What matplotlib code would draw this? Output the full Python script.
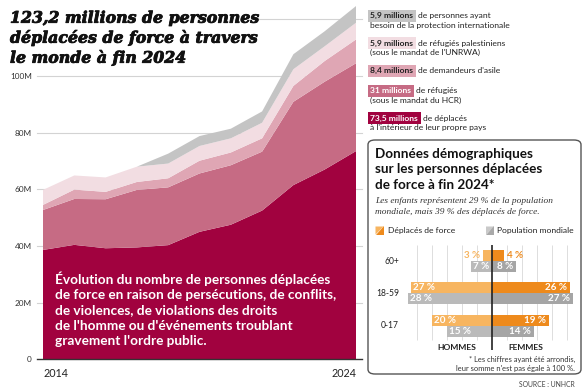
import numpy as np
import matplotlib.pyplot as plt
import matplotlib.patheffects as pe
from matplotlib.patches import FancyBboxPatch, Polygon

W, H = 588, 392

# Forcibly displaced people, millions
years = list(range(2014, 2025))
idp = [38.6, 40.4, 39.2, 39.5, 40.3, 45.0, 47.5, 52.5, 61.5, 67.0, 73.5]
refugees = [14.1, 16.2, 17.3, 20.3, 20.4, 20.6, 21.0, 20.8, 29.4, 31.0, 31.0]
asylum = [1.8, 3.3, 2.6, 2.8, 3.2, 4.5, 4.5, 4.7, 5.6, 7.3, 8.4]
palestine = [5.3, 5.0, 5.1, 5.4, 5.2, 5.2, 5.0, 5.5, 5.9, 5.2, 5.9]
others = [0, 0, 0, 0, 3.5, 3.5, 3.4, 4.0, 5.3, 5.3, 5.9]

y_ticks = [0, 20, 40, 60, 80, 100]
y_tick_labels = ['0', '20M', '40M', '60M', '80M', '100M']

# legend (top to bottom)
leg_values = ['5,9 millions', '5,9 millions', '8,4 millions', '31 millions', '73,5 millions']
leg_text1 = ['de personnes ayant', 'de réfugiés palestiniens', "de demandeurs d'asile",
             'de réfugiés', 'de déplacés']
leg_text2 = ['besoin de la protection internationale', "(sous le mandat de l'UNRWA)", '',
             '(sous le mandat du HCR)', "à l'intérieur de leur propre pays"]

# demographics, %
ages = ['60+', '18-59', '0-17']
fd_men = [3, 27, 20]
fd_women = [4, 26, 19]
world_men = [7, 28, 15]
world_women = [8, 27, 14]

title_lines = ['123,2 millions de personnes', 'déplacées de force à travers', 'le monde à fin 2024']
note_lines = ["Évolution du nombre de personnes déplacées",
              "de force en raison de persécutions, de conflits,",
              "de violences, de violations des droits",
              "de l'homme ou d'événements troublant",
              "gravement l'ordre public."]

c_idp = '#A1023F'
c_ref = '#C66B84'
c_asy = '#DFA6B4'
c_pal = '#F2DDE2'
c_oth = '#C4C4C4'
layer_colors = [c_idp, c_ref, c_asy, c_pal, c_oth]
leg_colors = [c_oth, c_pal, c_asy, c_ref, c_idp]
leg_txtcol = ['#222222', '#222222', '#222222', 'white', 'white']

dark = '#222222'
sans = 'Lato'


def fx(x):
    return x / W


def fy(y):
    return 1 - y / H


fig = plt.figure(figsize=(W / 100, H / 100), dpi=100)
renderer = fig.canvas.get_renderer()


def text_lines(x, baselines, strs, width, **kw):
    # one text per line, font size scaled so the widest line is `width` px
    ts = [fig.text(fx(x), fy(b), s, va='baseline', fontsize=10, **kw) for b, s in zip(baselines, strs)]
    w = max(t.get_window_extent(renderer).width for t in ts)
    for t in ts:
        t.set_fontsize(10 * width / w)
    return ts


def fit_size(s, width, **kw):
    t = fig.text(0, 0, s, fontsize=10, **kw)
    w = t.get_window_extent(renderer).width
    t.remove()
    return 10 * width / w


# ---- area chart
ax = fig.add_axes([fx(43), fy(359.3), 313 / W, 354.1 / H])
ax.set_xlim(2014, 2024)
ax.set_ylim(0, 125)
for v in y_ticks[1:]:
    ax.axhline(v, xmin=-0.02, xmax=1.02, color='#D3D3D3', lw=0.8, zorder=0, clip_on=False)
ax.axhline(120, xmin=0.69, xmax=1.02, color='#D3D3D3', lw=0.8, zorder=0, clip_on=False)
ax.stackplot(years, idp, refugees, asylum, palestine, others, colors=layer_colors,
             lw=0, zorder=1)
ax.axhline(0, xmin=-0.02, xmax=1.02, color='#333333', lw=1.0, zorder=3, clip_on=False)
for s in ax.spines.values():
    s.set_visible(False)
ax.set_yticks(y_ticks)
ax.set_yticklabels(y_tick_labels, fontsize=fit_size('100M', 22, family=sans), family=sans,
                   color='#333333')
ax.tick_params(axis='y', length=0, pad=8)
ax.set_xticks([2014, 2024])
ax.set_xticklabels(['2014', '2024'], fontsize=fit_size('2014', 25, family=sans), family=sans,
                   color=dark)
ax.tick_params(axis='x', length=0, pad=6)
xl = ax.get_xticklabels()
xl[0].set_ha('left')
xl[1].set_ha('right')

ttl = text_lines(10, [22.7, 42.7, 62.7], title_lines, 249, family='DejaVu Serif', weight='bold',
                 style='italic', color='#111111')
for t in ttl:
    t.set_path_effects([pe.withStroke(linewidth=0.6, foreground='#111111')])
text_lines(55, [284, 299.2, 314.4, 329.6, 344.8], note_lines, 282, family=sans,
           weight='bold', color='white')

# ---- legend on the right
leg_base = [18.3, 45.7, 73.3, 93.3, 120.7]
leg_fs = fit_size('besoin de la protection internationale', 140, family=sans)
for i in range(len(leg_values)):
    t = fig.text(fx(370.5), fy(leg_base[i]), leg_values[i], ha='left', va='baseline',
                 fontsize=leg_fs, family=sans, weight='bold', color=leg_txtcol[i],
                 bbox=dict(boxstyle='square,pad=0.3', fc=leg_colors[i], ec='none'))
    bb = t.get_window_extent(renderer)
    fig.text((bb.x1 + 5) / W, fy(leg_base[i]), leg_text1[i], ha='left', va='baseline',
             fontsize=leg_fs, family=sans, color=dark)
    if leg_text2[i]:
        fig.text(fx(370), fy(leg_base[i] + 9.6), leg_text2[i], ha='left', va='baseline',
                 fontsize=leg_fs, family=sans, color=dark)

# ---- demographics panel
box = FancyBboxPatch((fx(368), fy(374)), (581 - 368) / W, (374 - 140) / H,
                     boxstyle='round,pad=0,rounding_size=0.012', transform=fig.transFigure,
                     fc='white', ec='#555555', lw=1.0, zorder=-1)
fig.patches.append(box)

text_lines(375, [157.7, 173.3, 189], ['Données démographiques', 'sur les personnes déplacées',
                                       'de force à fin 2024*'], 167,
           family=sans, weight='bold', color='#111111')
text_lines(375, [203.3, 214.3], ['Les enfants représentent 29 % de la population',
                                 'mondiale, mais 39 % des déplacés de force.'], 178,
           family='Liberation Serif', style='italic', color='#333333')


def swatch(x0, y0, c_light, c_dark):
    s = 8
    fig.patches.append(Polygon([(fx(x0), fy(y0)), (fx(x0 + s), fy(y0)), (fx(x0), fy(y0 + s))],
                               closed=True, transform=fig.transFigure, fc=c_light, ec='none'))
    fig.patches.append(Polygon([(fx(x0 + s), fy(y0)), (fx(x0 + s), fy(y0 + s)), (fx(x0), fy(y0 + s))],
                               closed=True, transform=fig.transFigure, fc=c_dark, ec='none'))


sw_fs = fit_size('Déplacés de force', 67, family=sans)
swatch(375.5, 226.5, '#F7B560', '#EE8A1C')
fig.text(fx(388), fy(230.5), 'Déplacés de force', ha='left', va='center', fontsize=sw_fs,
         family=sans, color=dark)
swatch(486, 226.5, '#C9C9C9', '#A9A9A9')
fig.text(fx(497), fy(230.5), 'Population mondiale', ha='left', va='center', fontsize=sw_fs,
         family=sans, color=dark)

# pyramid axes: 3 px per %, groups 32.3 px apart
cx = 491.7
left_pct, right_pct = 29.5, 29.8
y_top_px, y_bot_px, g0_px, gstep = 245, 350, 261, 32.3
pax = fig.add_axes([fx(cx - left_pct * 3), fy(y_bot_px), (left_pct + right_pct) * 3 / W,
                    (y_bot_px - y_top_px) / H])
pax.set_xlim(-left_pct, right_pct)
pax.set_ylim((y_bot_px - g0_px) / gstep, (y_top_px - g0_px) / gstep)
pax.axis('off')
grid_bottom = (340 - g0_px) / gstep
for g in range(-25, 30, 5):
    if g != 0:
        pax.vlines(g, (y_top_px - g0_px) / gstep, grid_bottom, color='#DDDDDD', lw=0.7, zorder=0)

pos = np.arange(len(ages))
bh = 11 / gstep
c_fm, c_fw, c_wm, c_ww = '#F7B560', '#EE8A1C', '#BABABA', '#A5A5A5'
pax.barh(pos - bh / 2, [-v for v in fd_men], height=bh, color=c_fm, zorder=1)
pax.barh(pos - bh / 2, fd_women, height=bh, color=c_fw, zorder=1)
pax.barh(pos + bh / 2, [-v for v in world_men], height=bh, color=c_wm, zorder=1)
pax.barh(pos + bh / 2, world_women, height=bh, color=c_ww, zorder=1)
pax.axvline(0, color=dark, lw=1.2, zorder=3)

lab_kw = dict(fontsize=fit_size('27 %', 22, family=sans, weight='bold'), family=sans,
              weight='bold', va='center', zorder=4)
for i in range(len(ages)):
    for vals, yy, side, col in [(fd_men, pos[i] - bh / 2, -1, c_fm),
                                (fd_women, pos[i] - bh / 2, 1, c_fw),
                                (world_men, pos[i] + bh / 2, -1, c_wm),
                                (world_women, pos[i] + bh / 2, 1, c_ww)]:
        v = vals[i]
        txt = f'{v} %'
        if v < 5:
            pax.text(side * (v + 1.0), yy, txt, ha='right' if side < 0 else 'left',
                     color=col, **lab_kw)
        else:
            pax.text(side * (v - 0.9), yy, txt, ha='left' if side < 0 else 'right',
                     color='white', **lab_kw)
age_fs = fit_size('18-59', 23, family=sans)
for i in range(len(ages)):
    fig.text(fx(399), fy(g0_px + i * gstep), ages[i], ha='right', va='center', fontsize=age_fs,
             family=sans, color=dark)

sex_fs = fit_size('HOMMES', 39, family=sans, weight='bold')
fig.text(fx(456.5), fy(347.5), 'HOMMES', ha='center', va='center', fontsize=sex_fs, family=sans,
         weight='bold', color=dark)
fig.text(fx(525.5), fy(347.5), 'FEMMES', ha='center', va='center', fontsize=sex_fs, family=sans,
         weight='bold', color=dark)
foot = text_lines(575, [362, 370.7], ["* Les chiffres ayant été arrondis,",
                                     "leur somme n'est pas égale à 100 %."], 118,
                  family=sans, color='#333333')
for t in foot:
    t.set_ha('right')
fig.text(fx(575), fy(386.7), 'SOURCE : UNHCR', ha='right', va='baseline',
         fontsize=fit_size('SOURCE : UNHCR', 55, family=sans), family=sans, color='#444444')

fig.savefig('out.png', dpi=100)
